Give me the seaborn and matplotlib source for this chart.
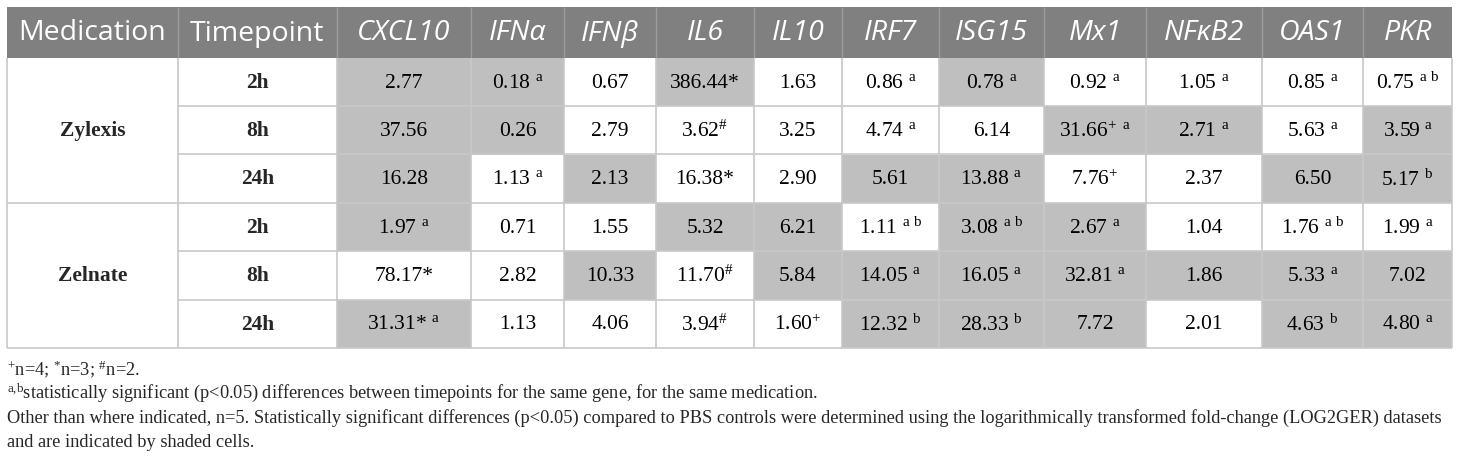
import numpy as np
import pandas as pd
import matplotlib
matplotlib.use('Agg')
import matplotlib.pyplot as plt
import seaborn as sns
from matplotlib.colors import ListedColormap

# table content
genes = ['CXCL10', 'IFNα', 'IFNβ', 'IL6', 'IL10', 'IRF7', 'ISG15', 'Mx1', 'NFκB2', 'OAS1', 'PKR']
medications = ['Zylexis', 'Zelnate']
timepoints = ['2h', '8h', '24h']

# fold-change values, rows: Zylexis 2h/8h/24h, Zelnate 2h/8h/24h
values = [
    [2.77, 0.18, 0.67, 386.44, 1.63, 0.86, 0.78, 0.92, 1.05, 0.85, 0.75],
    [37.56, 0.26, 2.79, 3.62, 3.25, 4.74, 6.14, 31.66, 2.71, 5.63, 3.59],
    [16.28, 1.13, 2.13, 16.38, 2.90, 5.61, 13.88, 7.76, 2.37, 6.50, 5.17],
    [1.97, 0.71, 1.55, 5.32, 6.21, 1.11, 3.08, 2.67, 1.04, 1.76, 1.99],
    [78.17, 2.82, 10.33, 11.70, 5.84, 14.05, 16.05, 32.81, 1.86, 5.33, 7.02],
    [31.31, 1.13, 4.06, 3.94, 1.60, 12.32, 28.33, 7.72, 2.01, 4.63, 4.80],
]

# shaded = significant vs PBS controls
shaded = [
    [1, 1, 0, 1, 0, 0, 1, 0, 0, 0, 0],
    [1, 1, 0, 0, 0, 0, 0, 1, 1, 0, 1],
    [1, 0, 1, 0, 0, 1, 1, 0, 0, 1, 1],
    [1, 0, 0, 1, 1, 0, 1, 1, 0, 0, 0],
    [0, 0, 1, 0, 1, 1, 1, 1, 1, 1, 1],
    [1, 0, 0, 0, 0, 1, 1, 1, 0, 1, 1],
]

# sample size markers (+ n=4, * n=3, # n=2)
n_marks = [
    ['', '', '', '*', '', '', '', '', '', '', ''],
    ['', '', '', '#', '', '', '', '+', '', '', ''],
    ['', '', '', '*', '', '', '', '+', '', '', ''],
    ['', '', '', '', '', '', '', '', '', '', ''],
    ['*', '', '', '#', '', '', '', '', '', '', ''],
    ['*', '', '', '#', '+', '', '', '', '', '', ''],
]

# timepoint difference letters
sig_marks = [
    ['', 'a', '', '', '', 'a', 'a', 'a', 'a', 'a', 'ab'],
    ['', '', '', '', '', 'a', '', 'a', 'a', 'a', 'a'],
    ['', 'a', '', '', '', '', 'a', '', '', '', 'b'],
    ['a', '', '', '', '', 'ab', 'ab', 'a', '', 'ab', 'a'],
    ['', '', '', '', '', 'a', 'a', 'a', '', 'a', ''],
    ['a', '', '', '', '', 'b', 'b', '', '', 'b', 'a'],
]

footnotes = [
    r'$^{+}$n=4; $^{*}$n=3; $^{\#}$n=2.',
    r'$^{a{,}b}$statistically significant (p<0.05) differences between timepoints for the same gene, for the same medication.',
    'Other than where indicated, n=5. Statistically significant differences (p<0.05) compared to PBS controls '
    'were determined using the logarithmically transformed fold-change (LOG2GER) datasets',
    'and are indicated by shaded cells.',
]

sns.set_theme(style='white')
plt.rcParams['mathtext.default'] = 'regular'

# layout in pixels
W, H = 1460, 460
col_edges = [7, 178, 337, 471, 564, 656, 754, 842, 939, 1044, 1146, 1262, 1363, 1452]
row_edges = [8, 59, 107, 155, 204, 252, 301, 349]
header_col = '#808080'
shade_col = '#bfbfbf'
grid_col = '#c8c8c8'
serif = 'Liberation Serif'
sans = 'Open Sans'


def cell_label(v, n, s):
    txt = f'{v:.2f}'
    if n == '*':
        txt += '*'
    elif n == '+':
        txt += r'$^{+}$'
    elif n == '#':
        txt += r'$^{\#}$'
    if s:
        txt += ' $^{' + r'\ '.join(s) + '}$'
    return txt


labels = np.array([[cell_label(values[i][j], n_marks[i][j], sig_marks[i][j])
                    for j in range(len(genes))] for i in range(len(values))])
shade_df = pd.DataFrame(shaded, columns=genes)


def frac(x0, y0, x1, y1):
    return [x0 / W, 1 - y1 / H, (x1 - x0) / W, (y1 - y0) / H]


fig = plt.figure(figsize=(W / 100, H / 100), dpi=100)
bg = fig.add_axes([0, 0, 1, 1])
bg.set_xlim(0, W)
bg.set_ylim(H, 0)
bg.axis('off')

# header band
bg.add_patch(plt.Rectangle((col_edges[0], row_edges[0]), col_edges[-1] - col_edges[0],
                           row_edges[1] - row_edges[0], color=header_col, lw=0))
head_y = (row_edges[0] + row_edges[1]) / 2
for k, name in enumerate(['Medication', 'Timepoint'] + genes):
    cx = (col_edges[k] + col_edges[k + 1]) / 2
    bg.text(cx, head_y, name, ha='center', va='center', color='white', fontsize=20.5,
            family=sans, style='normal' if k < 2 else 'italic')

# medication and timepoint labels
for m, med in enumerate(medications):
    top = row_edges[1 + 3 * m]
    bot = row_edges[4 + 3 * m]
    bg.text((col_edges[0] + col_edges[1]) / 2, (top + bot) / 2, med, ha='center', va='center',
            fontsize=15.5, fontweight='bold', family=serif)
    for t, tp in enumerate(timepoints):
        r = 1 + 3 * m + t
        bg.text((col_edges[1] + col_edges[2]) / 2, (row_edges[r] + row_edges[r + 1]) / 2, tp,
                ha='center', va='center', fontsize=15.5, fontweight='bold', family=serif)

# body cells: one heatmap column per gene
cmap = ListedColormap(['white', shade_col])
for j, g in enumerate(genes):
    ax = fig.add_axes(frac(col_edges[j + 2], row_edges[1], col_edges[j + 3], row_edges[-1]))
    sns.heatmap(shade_df[[g]], ax=ax, cmap=cmap, vmin=0, vmax=1, cbar=False,
                annot=labels[:, [j]], fmt='', xticklabels=False, yticklabels=False,
                annot_kws=dict(fontsize=15.5, color='black', family=serif))
    ax.set_axis_off()

# grid lines on top
ov = fig.add_axes([0, 0, 1, 1], facecolor='none')
ov.set_xlim(0, W)
ov.set_ylim(H, 0)
ov.axis('off')
ov.vlines(col_edges[1:-1], row_edges[0], row_edges[1], color='#9c9c9c', lw=1.0)
ov.vlines(col_edges, row_edges[1], row_edges[-1], color=grid_col, lw=1.2)
ov.hlines([row_edges[2], row_edges[3], row_edges[5], row_edges[6]], col_edges[1], col_edges[-1],
          color=grid_col, lw=1.2)
ov.hlines([row_edges[4], row_edges[-1]], col_edges[0], col_edges[-1], color=grid_col, lw=1.2)

# footnotes, sized so the long line spans the table width
notes = [ov.text(col_edges[0], yb, line, ha='left', va='baseline', fontsize=14, family=serif)
         for line, yb in zip(footnotes, [375, 398, 423, 447])]
renderer = fig.canvas.get_renderer()
wide = notes[2].get_window_extent(renderer).width
fs = 14 * (1447 - col_edges[0]) / wide
for t in notes:
    t.set_fontsize(fs)

fig.savefig('out.png', dpi=100)
